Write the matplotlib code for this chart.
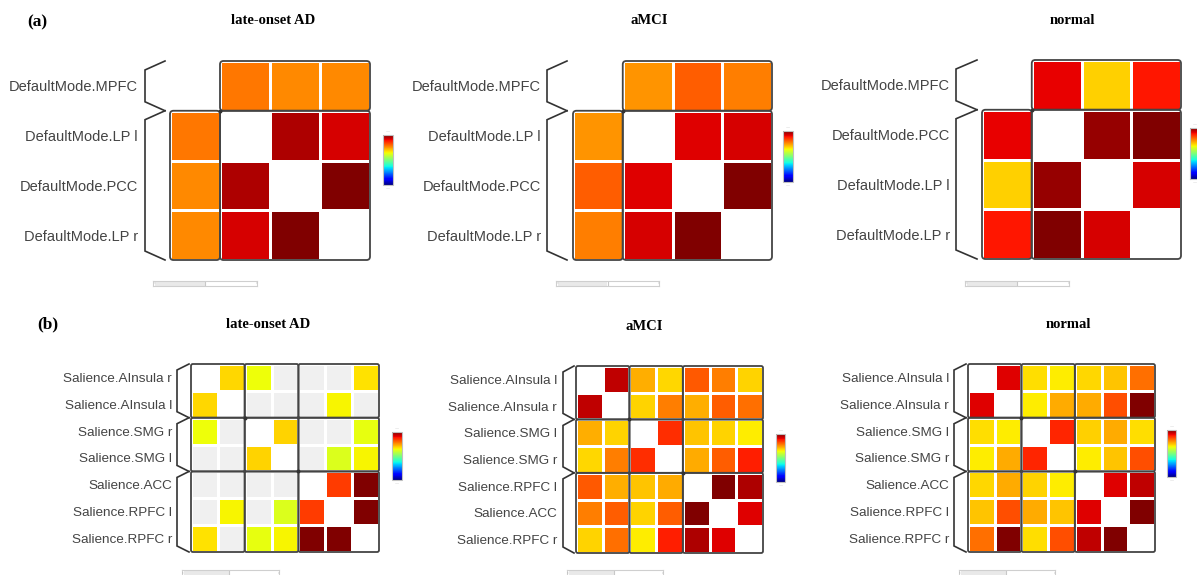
import numpy as np
import matplotlib
matplotlib.use("Agg")
import matplotlib.pyplot as plt
from matplotlib.colors import ListedColormap, Normalize
from matplotlib.cm import ScalarMappable
from matplotlib.patches import FancyBboxPatch

n_ = np.nan

# ---------------- data ----------------
titles = ["late-onset AD", "aMCI", "normal"]

dmn_groups = [1, 3]
dmn_labels_ad = ["DefaultMode.MPFC", "DefaultMode.LP l", "DefaultMode.PCC", "DefaultMode.LP r"]
dmn_labels_amci = ["DefaultMode.MPFC", "DefaultMode.LP l", "DefaultMode.PCC", "DefaultMode.LP r"]
dmn_labels_normal = ["DefaultMode.MPFC", "DefaultMode.PCC", "DefaultMode.LP l", "DefaultMode.LP r"]

dmn_ad = [[n_, 0.57, 0.53, 0.53],
          [0.57, n_, 0.92, 0.85],
          [0.53, 0.92, n_, 1.00],
          [0.53, 0.85, 1.00, n_]]
dmn_amci = [[n_, 0.50, 0.62, 0.55],
            [0.50, n_, 0.83, 0.85],
            [0.62, 0.83, n_, 1.00],
            [0.55, 0.85, 1.00, n_]]
dmn_normal = [[n_, 0.82, 0.38, 0.77],
              [0.82, n_, 0.96, 1.00],
              [0.38, 0.96, n_, 0.85],
              [0.77, 1.00, 0.85, n_]]

sal_groups = [2, 2, 3]
sal_labels_ad = ["Salience.AInsula r", "Salience.AInsula l", "Salience.SMG r", "Salience.SMG l",
                 "Salience.ACC", "Salience.RPFC l", "Salience.RPFC r"]
sal_labels_amci = ["Salience.AInsula l", "Salience.AInsula r", "Salience.SMG l", "Salience.SMG r",
                   "Salience.RPFC l", "Salience.ACC", "Salience.RPFC r"]
sal_labels_normal = ["Salience.AInsula l", "Salience.AInsula r", "Salience.SMG l", "Salience.SMG r",
                     "Salience.ACC", "Salience.RPFC l", "Salience.RPFC r"]

# nan off the diagonal = non-significant (grey)
sal_ad = [[n_, 0.36, 0.28, n_, n_, n_, 0.34],
          [0.36, n_, n_, n_, n_, 0.30, n_],
          [0.28, n_, n_, 0.37, n_, n_, 0.26],
          [n_, n_, 0.37, n_, n_, 0.23, 0.30],
          [n_, n_, n_, n_, n_, 0.69, 1.00],
          [n_, 0.30, n_, 0.23, 0.69, n_, 1.00],
          [0.34, n_, 0.26, 0.30, 1.00, 1.00, n_]]
sal_amci = [[n_, 0.89, 0.45, 0.36, 0.63, 0.55, 0.37],
            [0.89, n_, 0.37, 0.55, 0.45, 0.62, 0.58],
            [0.45, 0.37, n_, 0.72, 0.40, 0.37, 0.32],
            [0.36, 0.55, 0.72, n_, 0.46, 0.62, 0.75],
            [0.63, 0.45, 0.40, 0.46, n_, 1.00, 0.92],
            [0.55, 0.62, 0.37, 0.62, 1.00, n_, 0.83],
            [0.37, 0.58, 0.32, 0.75, 0.92, 0.83, n_]]
sal_normal = [[n_, 0.83, 0.35, 0.32, 0.36, 0.40, 0.58],
              [0.83, n_, 0.32, 0.46, 0.46, 0.65, 1.00],
              [0.35, 0.32, n_, 0.74, 0.38, 0.46, 0.35],
              [0.32, 0.46, 0.74, n_, 0.32, 0.40, 0.65],
              [0.36, 0.46, 0.37, 0.32, n_, 0.83, 0.89],
              [0.40, 0.65, 0.46, 0.40, 0.83, n_, 1.00],
              [0.58, 1.00, 0.35, 0.65, 0.89, 1.00, n_]]

# scrollbar thumb fraction
scroll_frac = [0.5, 0.5, 0.5, 0.48, 0.49, 0.49]

# ---------------- figure ----------------
W, H = 1197, 575
fig = plt.figure(figsize=(W / 100, H / 100), dpi=100)
GRAY = "#f0f0f0"
EDGE = "#444444"
LABEL_C = "#444444"


def ax_px(x0, y0, x1, y1):
    return fig.add_axes([x0 / W, 1 - y1 / H, (x1 - x0) / W, (y1 - y0) / H])


def heat(box, M, labels, groups, brace_r, brace_l, slant, pad_px, fs):
    x0, y0, x1, y1 = box
    ax = ax_px(*box)
    n = len(labels)
    cell = (x1 - x0) / n
    M = np.array(M, dtype=float)
    eye = np.eye(n, dtype=bool)
    ax.set_facecolor("white")
    grey = np.where(np.isnan(M) & ~eye, 1.0, np.nan)
    ax.pcolormesh(grey, cmap=ListedColormap([GRAY]), edgecolors="white", linewidth=0.75)
    ax.pcolormesh(M, cmap="jet", vmin=-1, vmax=1, edgecolors="white", linewidth=0.75)
    ax.set_xlim(0, n)
    ax.set_ylim(n, 0)
    for s in ax.spines.values():
        s.set_visible(False)
    ax.set_xticks([])
    ax.set_yticks(np.arange(n) + 0.5)
    ax.set_yticklabels(labels, fontsize=fs, color=LABEL_C, family="Liberation Sans")
    ax.tick_params(axis="y", length=0, pad=pad_px * 0.72)
    b = np.concatenate([[0], np.cumsum(groups)])
    # block outlines
    for i in range(len(groups)):
        for j in range(len(groups)):
            if i == j and groups[i] == 1:
                continue
            p = FancyBboxPatch((b[j], b[i]), groups[j], groups[i],
                               boxstyle="round,pad=0,rounding_size=0.07",
                               fc="none", ec=EDGE, lw=1.3, clip_on=False, zorder=5)
            ax.add_patch(p)
    for k in range(1, len(groups)):
        ax.plot(b[k], b[k], marker="o", ms=1.8, color="#333333", clip_on=False, zorder=6)
    # braces
    xr = -brace_r / cell
    xl = -brace_l / cell
    s = slant / cell
    for k in range(len(groups)):
        ya, yb = b[k], b[k + 1]
        ax.plot([xr, xl, xl, xr], [ya, ya + s, yb - s, yb], color="#333333",
                lw=1.2, clip_on=False, solid_joinstyle="miter")
    return ax


def cbar(box):
    cax = ax_px(*box)
    sm = ScalarMappable(norm=Normalize(-1, 1), cmap="jet")
    cb = fig.colorbar(sm, cax=cax)
    cb.set_ticks([])
    cb.outline.set_edgecolor("#c0c0c0")
    cb.outline.set_linewidth(0.8)
    cax.text(0.5, 1.03, "\u2014", transform=cax.transAxes, ha="center", va="bottom",
             fontsize=3, color="#bbbbbb")
    cax.text(0.5, -0.03, "\u2014", transform=cax.transAxes, ha="center", va="top",
             fontsize=3, color="#bbbbbb")


def scroll(box, frac):
    sax = ax_px(*box)
    sax.set_xlim(0, 1)
    sax.set_ylim(0, 1)
    sax.axvspan(0.02, frac, color="#e9e9e9", lw=0)
    sax.axvline(frac, color="#c8c8c8", lw=0.8)
    sax.set_xticks([])
    sax.set_yticks([])
    for sp in sax.spines.values():
        sp.set_edgecolor("#cfcfcf")
        sp.set_linewidth(0.8)
    sax.text(0.01, 0.5, "\u2039", ha="center", va="center", fontsize=3, color="#999999")
    sax.text(0.99, 0.5, "\u203a", ha="center", va="center", fontsize=3, color="#999999")


# panel (a)
heat((170, 61, 370, 260), dmn_ad, dmn_labels_ad, dmn_groups, 5, 25, 9, 32, 10.5)
heat((573, 61, 772, 260), dmn_amci, dmn_labels_amci, dmn_groups, 6, 26, 9, 32, 10.5)
heat((982, 60, 1181, 259), dmn_normal, dmn_labels_normal, dmn_groups, 5, 26, 9, 32, 10.5)

# panel (b)
heat((191, 364, 379, 552), sal_ad, sal_labels_ad, sal_groups, 2, 14, 6, 19, 9.7)
heat((576, 366, 763, 553), sal_amci, sal_labels_amci, sal_groups, 2, 13, 6, 19, 9.7)
heat((968, 364, 1155, 552), sal_normal, sal_labels_normal, sal_groups, 2, 14, 6, 19, 9.7)

# colorbars
cbar((383, 135, 393, 185))
cbar((783, 131, 793, 182))
cbar((1190, 128, 1200, 179))
cbar((392, 432, 402, 480))
cbar((776, 434, 785, 482))
cbar((1167, 430, 1176, 477))

# scrollbars
scroll((153, 281, 257, 286), scroll_frac[0])
scroll((556, 281, 659, 286), scroll_frac[1])
scroll((965, 281, 1069, 286), scroll_frac[2])
scroll((182, 570, 279, 577), scroll_frac[3])
scroll((567, 570, 663, 577), scroll_frac[4])
scroll((959, 570, 1055, 577), scroll_frac[5])

# titles
tfont = dict(family="Liberation Serif", weight="bold", fontsize=10.5, ha="center", va="center")
for (x, y), t in zip([(273, 21), (649, 21), (1072, 21)], titles):
    fig.text(x / W, 1 - y / H, t, **tfont)
for (x, y), t in zip([(268, 324), (644, 326), (1068, 325)], titles):
    fig.text(x / W, 1 - y / H, t, **tfont)

fig.text(27 / W, 1 - 22 / H, "(a)", family="Liberation Serif", weight="bold", fontsize=12.5,
         ha="left", va="center")
fig.text(37 / W, 1 - 324 / H, "(b)", family="Liberation Serif", weight="bold", fontsize=12.5,
         ha="left", va="center")

fig.savefig("out.png", dpi=100)
